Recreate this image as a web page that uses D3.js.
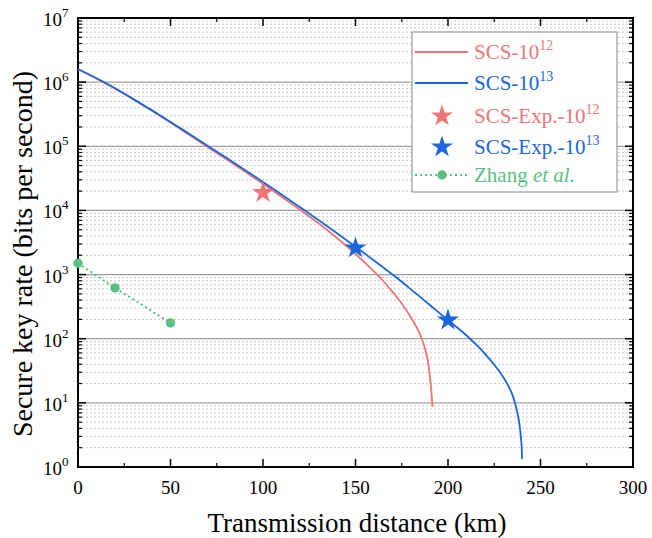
<!DOCTYPE html>
<html>
<head>
<meta charset="utf-8">
<script src="https://cdn.jsdelivr.net/npm/d3@7"></script>
<style>
  body { margin: 0; background: #fff; }
</style>
</head>
<body>
<svg width="652" height="538"></svg>
<script>
// distance (km) and log10 of key rate
let dist12 = [0, 10, 20, 30, 40, 50, 60, 70, 80, 90, 100, 110, 120, 130, 140, 150, 160, 165, 170, 175, 180, 183, 185, 187, 188.5, 189.5, 190.3, 191, 191.6];
let logRate12 = [6.2, 6.055, 5.9, 5.73, 5.553, 5.37, 5.18, 4.99, 4.8, 4.61, 4.415, 4.215, 4.01, 3.8, 3.57, 3.32, 3.05, 2.9, 2.73, 2.55, 2.33, 2.18, 2.06, 1.9, 1.74, 1.58, 1.38, 1.18, 0.94];

let dist13 = [0, 10, 20, 30, 40, 50, 60, 70, 80, 90, 100, 110, 120, 130, 140, 150, 160, 170, 180, 190, 200, 205, 210, 215, 220, 225, 228, 230, 232.6, 234.6, 236.3, 237.6, 238.7, 239.44, 239.88, 240];
let logRate13 = [6.205, 6.06, 5.905, 5.735, 5.56, 5.38, 5.195, 5.01, 4.825, 4.635, 4.445, 4.25, 4.05, 3.85, 3.645, 3.435, 3.22, 3.0, 2.77, 2.53, 2.29, 2.175, 2.05, 1.915, 1.765, 1.595, 1.48, 1.395, 1.265, 1.14, 0.99, 0.83, 0.65, 0.45, 0.27, 0.125];

let expDist12 = [100];
let expRate12 = [1.9e4];
let expDist13 = [150, 200];
let expRate13 = [2.6e3, 1.95e2];

let zhangDist = [0, 20, 50];
let zhangRate = [1.5e3, 620, 176];

let xTicks = [0, 50, 100, 150, 200, 250, 300];
let yExps = [0, 1, 2, 3, 4, 5, 6, 7];

let red = '#f07478';
let blue = '#1a66dc';
let green = '#5cbf86';
let serif = '"Liberation Serif", "Times New Roman", Times, serif';

let svg = d3.select('svg').style('font-family', serif);
let pl = 78, pr = 633, pt = 18, pb = 467;

let x = d3.scaleLinear().domain([0, 300]).range([pl, pr]);
let y = d3.scaleLog().domain([1, 1e7]).range([pb, pt]);

// grid
let minor = [];
yExps.slice(0, -1).forEach(e => { for (let k = 2; k <= 9; k++) minor.push(k * Math.pow(10, e)); });
let majors = yExps.map(e => Math.pow(10, e));

svg.append('g').selectAll('line')
  .data(minor)
  .enter()
    .append('line')
    .attr('x1', pl).attr('x2', pr)
    .attr('y1', d => y(d)).attr('y2', d => y(d))
    .attr('stroke', '#c8c8c8')
    .attr('stroke-dasharray', '2,2');

svg.append('g').selectAll('line')
  .data(majors.slice(1, -1))
  .enter()
    .append('line')
    .attr('x1', pl).attr('x2', pr)
    .attr('y1', d => y(d)).attr('y2', d => y(d))
    .attr('stroke', '#a0a0a0')
    .attr('stroke-width', 1.2);

// axes with inward ticks
function yAxis(side) {
  let g = svg.append('g');
  let sgn = side === 'left' ? 1 : -1;
  let x0 = side === 'left' ? pl : pr;
  g.selectAll('.mj').data(majors).enter().append('line')
    .attr('x1', x0).attr('x2', x0 + sgn * 8)
    .attr('y1', d => y(d)).attr('y2', d => y(d))
    .attr('stroke', '#000').attr('stroke-width', 1.5);
  g.selectAll('.mn').data(minor).enter().append('line')
    .attr('x1', x0).attr('x2', x0 + sgn * 4)
    .attr('y1', d => y(d)).attr('y2', d => y(d))
    .attr('stroke', '#000').attr('stroke-width', 1.2);
}
yAxis('left');
yAxis('right');

let xMinor = d3.range(25, 300, 50);
function xAxis(side) {
  let g = svg.append('g');
  let sgn = side === 'bottom' ? -1 : 1;
  let y0 = side === 'bottom' ? pb : pt;
  g.selectAll('.mj').data(xTicks).enter().append('line')
    .attr('x1', d => x(d)).attr('x2', d => x(d))
    .attr('y1', y0).attr('y2', y0 + sgn * 8)
    .attr('stroke', '#000').attr('stroke-width', 1.5);
  g.selectAll('.mn').data(xMinor).enter().append('line')
    .attr('x1', d => x(d)).attr('x2', d => x(d))
    .attr('y1', y0).attr('y2', y0 + sgn * 4)
    .attr('stroke', '#000').attr('stroke-width', 1.2);
}
xAxis('bottom');
xAxis('top');

svg.append('rect')
  .attr('x', pl).attr('y', pt)
  .attr('width', pr - pl).attr('height', pb - pt)
  .attr('fill', 'none').attr('stroke', '#000').attr('stroke-width', 2);

// tick labels
svg.append('g').selectAll('text')
  .data(xTicks)
  .enter()
    .append('text')
    .style('font-family', serif)
    .attr('x', d => x(d)).attr('y', 494)
    .attr('text-anchor', 'middle')
    .attr('font-size', 19)
    .text(d => d);

let yl = svg.append('g').selectAll('text')
  .data(yExps)
  .enter()
    .append('text')
    .style('font-family', serif)
    .attr('x', 43).attr('y', d => y(Math.pow(10, d)) + 8)
    .attr('font-size', 19);
yl.append('tspan').text('10');
yl.append('tspan').attr('dy', -9).attr('font-size', 13).text(d => d);

// axis titles
svg.append('text')
  .style('font-family', serif)
  .attr('x', 357).attr('y', 532)
  .attr('text-anchor', 'middle')
  .attr('font-size', 27)
  .text('Transmission distance (km)');

svg.append('text')
  .style('font-family', serif)
  .attr('transform', 'translate(32,254) rotate(-90)')
  .attr('text-anchor', 'middle')
  .attr('font-size', 28)
  .text('Secure key rate (bits per second)');

// curves
let line = d3.line()
  .x(d => x(d[0]))
  .y(d => y(Math.pow(10, d[1])))
  .curve(d3.curveMonotoneX);

svg.append('path')
  .datum(d3.zip(dist12, logRate12))
  .attr('d', line)
  .attr('fill', 'none').attr('stroke', red).attr('stroke-width', 1.8);

svg.append('path')
  .datum(d3.zip(dist13, logRate13))
  .attr('d', line)
  .attr('fill', 'none').attr('stroke', blue).attr('stroke-width', 1.8);

svg.append('path')
  .datum(d3.zip(zhangDist, zhangRate))
  .attr('d', d3.line().x(d => x(d[0])).y(d => y(d[1])))
  .attr('fill', 'none').attr('stroke', green).attr('stroke-width', 2)
  .attr('stroke-dasharray', '2,3');

svg.append('g').selectAll('circle')
  .data(d3.zip(zhangDist, zhangRate))
  .enter()
    .append('circle')
    .attr('cx', d => x(d[0])).attr('cy', d => y(d[1]))
    .attr('r', 4.7)
    .attr('fill', green);

let star = d3.symbol().type(d3.symbolStar).size(150);

svg.append('g').selectAll('path')
  .data(d3.zip(expDist12, expRate12))
  .enter()
    .append('path')
    .attr('d', star)
    .attr('transform', d => 'translate(' + x(d[0]) + ',' + y(d[1]) + ')')
    .attr('fill', red);

svg.append('g').selectAll('path')
  .data(d3.zip(expDist13, expRate13))
  .enter()
    .append('path')
    .attr('d', star)
    .attr('transform', d => 'translate(' + x(d[0]) + ',' + y(d[1]) + ')')
    .attr('fill', blue);

// legend
let lg = svg.append('g');
lg.append('rect')
  .attr('x', 412).attr('y', 32)
  .attr('width', 205).attr('height', 160)
  .attr('fill', '#fff').attr('stroke', '#888').attr('stroke-width', 1);

let legendItems = [
  { label: 'SCS-10', sup: '12', color: red, kind: 'line' },
  { label: 'SCS-10', sup: '13', color: blue, kind: 'line' },
  { label: 'SCS-Exp.-10', sup: '12', color: red, kind: 'star' },
  { label: 'SCS-Exp.-10', sup: '13', color: blue, kind: 'star' },
  { label: 'Zhang ', ital: 'et al.', color: green, kind: 'dot' }
];
let rowY = [52, 83, 116, 147, 175];

legendItems.forEach((it, i) => {
  let cy = rowY[i];
  if (it.kind === 'line') {
    lg.append('line').attr('x1', 415).attr('x2', 468).attr('y1', cy).attr('y2', cy)
      .attr('stroke', it.color).attr('stroke-width', 1.8);
  } else if (it.kind === 'star') {
    lg.append('path').attr('d', star).attr('transform', 'translate(442,' + cy + ')').attr('fill', it.color);
  } else {
    lg.append('line').attr('x1', 415).attr('x2', 468).attr('y1', cy).attr('y2', cy)
      .attr('stroke', it.color).attr('stroke-width', 2).attr('stroke-dasharray', '2,3');
    lg.append('circle').attr('cx', 442).attr('cy', cy).attr('r', 4.7).attr('fill', it.color);
  }
  let t = lg.append('text').style('font-family', serif)
    .attr('x', 474).attr('y', cy + 7).attr('font-size', 21).attr('fill', it.color);
  t.append('tspan').text(it.label);
  if (it.sup) t.append('tspan').attr('dy', -9).attr('font-size', 14).text(it.sup);
  if (it.ital) t.append('tspan').attr('font-style', 'italic').text(it.ital);
});
</script>
</body>
</html>
